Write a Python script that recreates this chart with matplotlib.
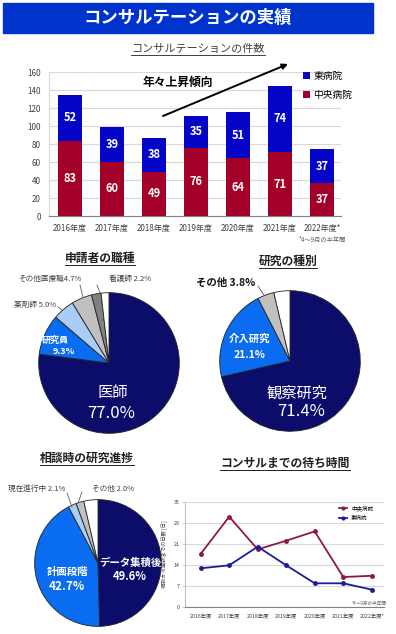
import numpy as np
import matplotlib
matplotlib.use('Agg')
import matplotlib.pyplot as plt
from matplotlib.patches import Rectangle
from matplotlib.lines import Line2D

plt.rcParams['font.family'] = ['Noto Sans CJK JP', 'DejaVu Sans']

W, H = 396, 634

# consultation counts
years = ['2016年度', '2017年度', '2018年度', '2019年度', '2020年度', '2021年度', '2022年度*']
central = [83, 60, 49, 76, 64, 71, 37]
east = [52, 39, 38, 35, 51, 74, 37]

# applicant job type (%)
job_labels = ['医師', '研究員', '薬剤師', 'その他医療職', '看護師', '']
job_share = [77.0, 9.3, 5.0, 4.7, 2.2, 1.8]

# study type (%)
study_labels = ['観察研究', '介入研究', 'その他', '']
study_share = [71.4, 21.1, 3.8, 3.7]

# study progress at consultation (%)
stage_labels = ['データ集積後', '計画段階', '現在進行中', 'その他', '']
stage_share = [49.6, 42.7, 2.1, 2.0, 3.6]

# waiting time (days)
wait_central = [17.7, 30.1, 19.2, 22.1, 25.2, 10.0, 10.4]
wait_east = [12.9, 13.9, 20.1, 13.9, 7.9, 7.9, 5.8]

RED = '#a3002a'
BLUE = '#0505c8'
NAVY = '#0c0c6a'
MID = '#0a6cf0'
LIGHT = '#a9cdf4'
GRAY = '#c0c0c0'
DGRAY = '#808080'


def box(x0, y0, x1, y1):
    # pixel box (top-left origin) -> figure fraction
    return [x0 / W, 1 - y1 / H, (x1 - x0) / W, (y1 - y0) / H]


fig = plt.figure(figsize=(W / 100, H / 100), dpi=100)

# ---- stacked bars
ax = fig.add_axes(box(49, 72, 341, 216))
x = np.arange(len(years))
bars_c = ax.bar(x, central, width=0.57, color=RED)
bars_e = ax.bar(x, east, bottom=central, width=0.57, color=BLUE)
for i in x:
    ax.text(i, central[i] / 2, str(central[i]), ha='center', va='center',
            color='white', fontsize=8, fontweight='bold')
    ax.text(i, central[i] + east[i] / 2, str(east[i]), ha='center', va='center',
            color='white', fontsize=8, fontweight='bold')
ax.set_xlim(-0.5, 6.45)
ax.set_ylim(0, 160)
ax.set_yticks(range(0, 161, 20))
ax.set_xticks(x)
ax.set_xticklabels(years)
ax.yaxis.grid(True, color='#d9d9d9', lw=0.8)
ax.set_axisbelow(True)
for s in ['top', 'right']:
    ax.spines[s].set_visible(False)
ax.spines['left'].set_color('#d9d9d9')
ax.spines['bottom'].set_color('#808080')
ax.tick_params(length=0, labelsize=5.8, colors='#404040', pad=6)
fig.legend([bars_e, bars_c], ['東病院', '中央病院'], loc='upper left',
           bbox_to_anchor=(298 / W, 1 - 66 / H), frameon=False, fontsize=7,
           handlelength=0.7, handleheight=0.7, handletextpad=0.4,
           labelspacing=0.9, borderpad=0)


# ---- pies
def pie(bx, values, colors):
    a = fig.add_axes(box(*bx))
    a.pie(values, colors=colors, startangle=90, counterclock=False,
          wedgeprops=dict(edgecolor='#222222', linewidth=0.6))
    a.set_xlim(-1.01, 1.01)
    a.set_ylim(-1.01, 1.01)
    a.set_aspect('equal')
    return a


pie((38, 292, 180, 434), job_share, [NAVY, MID, LIGHT, GRAY, DGRAY, 'white'])
pie((219, 290, 361, 432), study_share, [NAVY, MID, GRAY, 'white'])
pie((34, 499, 162, 627), stage_share, [NAVY, MID, LIGHT, GRAY, 'white'])

# ---- line chart
ax4 = fig.add_axes(box(185, 502, 384, 607))
ax4.plot(x, wait_central, color='#8e1b3c', marker='o', ms=2.5, lw=1.3, label='中央病院')
ax4.plot(x, wait_east, color='#1c1c96', marker='o', ms=2.5, lw=1.3, label='東病院')
ax4.set_xlim(-0.55, 6.43)
ax4.set_ylim(0, 35)
ax4.set_yticks(range(0, 36, 7))
ax4.set_xticks(x)
ax4.set_xticklabels([y.replace('2016', '2016') for y in years])
ax4.yaxis.grid(True, color='#d9d9d9', lw=0.8)
ax4.set_axisbelow(True)
for s in ['top', 'right']:
    ax4.spines[s].set_visible(False)
ax4.spines['left'].set_color('#bfbfbf')
ax4.spines['bottom'].set_color('#808080')
ax4.tick_params(axis='y', length=2, width=0.5, color='#bfbfbf', labelsize=3.8,
                colors='#404040', pad=2)
ax4.tick_params(axis='x', length=0, labelsize=3.8, colors='#404040', pad=5)
ax4.set_ylabel('相談から面談までの日数 [日]', fontsize=3.8, color='#404040', labelpad=4)
ax4.legend(loc='upper right', bbox_to_anchor=(0.97, 1.02), frameon=False,
           fontsize=4, handlelength=1.4, markerscale=0.8, labelspacing=0.9)

# ---- overlay for texts and shapes, pixel coordinates
ov = fig.add_axes([0, 0, 1, 1])
ov.set_xlim(0, W)
ov.set_ylim(H, 0)
ov.set_axis_off()
ov.patch.set_alpha(0)
ov.set_zorder(10)

ov.add_patch(Rectangle((3, 3), 370, 30, color='#0033cc'))
ov.text(188, 18, 'コンサルテーションの実績', ha='center', va='center',
        color='white', fontsize=12.5, fontweight='bold')

underlined = []
underlined.append(ov.text(198, 49, 'コンサルテーションの件数', ha='center', va='center',
                          color='#404040', fontsize=8))

ov.annotate('', xy=(288, 64), xytext=(163, 116),
            arrowprops=dict(arrowstyle='-|>', color='black', lw=1.4, mutation_scale=8,
                            shrinkA=0, shrinkB=0))
ov.text(178, 82, '年々上昇傾向', ha='center', va='center', fontsize=8.5, fontweight='bold')
ov.text(322, 240, '*4～9月の半年間', ha='center', va='center', fontsize=4.5, color='#606060')
ov.text(369, 603, '*4～9月の半年間', ha='center', va='center', fontsize=3.3, color='#606060')

for xx, yy, t in [(100, 258, '申請者の職種'), (288, 261, '研究の種別'),
                  (87, 458, '相談時の研究進捗'), (285, 463, 'コンサルまでの待ち時間')]:
    underlined.append(ov.text(xx, yy, t, ha='center', va='center', fontsize=8.5,
                              fontweight='bold', color='#202020'))

wt = dict(ha='center', va='center', color='white')
gt = dict(ha='center', va='center', color='#404040', fontsize=5.5)

# pie 1 labels
ov.text(113, 393, job_labels[0], fontsize=11, **wt)
ov.text(111, 413, f'{job_share[0]:.1f}%', fontsize=12, **wt)
ov.text(55, 340, job_labels[1], fontsize=6.5, fontweight='bold', **wt)
ov.text(64, 351, f'{job_share[1]:.1f}%', fontsize=6.5, fontweight='bold', **wt)
ov.text(35, 305, f'{job_labels[2]} {job_share[2]:.1f}%', **gt)
ov.text(50, 279, f'{job_labels[3]}{job_share[3]:.1f}%', **gt)
ov.text(130, 279, f'{job_labels[4]} {job_share[4]:.1f}%', **gt)

# pie 2 labels
ov.text(297, 393, study_labels[0], fontsize=11, **wt)
ov.text(301, 411, f'{study_share[0]:.1f}%', fontsize=12, **wt)
ov.text(250, 339, study_labels[1], fontsize=7.5, fontweight='bold', **wt)
ov.text(250, 355, f'{study_share[1]:.1f}%', fontsize=7.5, fontweight='bold', **wt)
ov.text(226, 283, f'{study_labels[2]} {study_share[2]:.1f}%', ha='center', va='center',
        fontsize=7.5, fontweight='bold', color='#111111')

# pie 3 labels
ov.text(130, 563, stage_labels[0], fontsize=7.5, fontweight='bold', **wt)
ov.text(130, 577, f'{stage_share[0]:.1f}%', fontsize=8, fontweight='bold', **wt)
ov.text(67, 572, stage_labels[1], fontsize=7.5, fontweight='bold', **wt)
ov.text(67, 587, f'{stage_share[1]:.1f}%', fontsize=8.5, fontweight='bold', **wt)
ov.text(37, 489, f'{stage_labels[2]} {stage_share[2]:.1f}%', **gt)
ov.text(113, 489, f'{stage_labels[3]} {stage_share[3]:.1f}%', **gt)

# leader lines
for (x0, y0), (x1, y1) in [((80, 285), (83, 297)), ((97, 285), (100, 293)),
                           ((58, 307), (62, 310)), ((258, 286), (264, 295)),
                           ((67, 493), (72, 507)), ((82, 492), (78, 503))]:
    ov.plot([x0, x1], [y0, y1], color='#606060', lw=0.6)

# underline titles
fig.canvas.draw()
for t in underlined:
    bb = t.get_window_extent()
    yl = (bb.y0 - 0.5) / H
    fig.add_artist(Line2D([bb.x0 / W, bb.x1 / W], [yl, yl], color=t.get_color(), lw=0.7))

fig.savefig('out.png', dpi=100)
